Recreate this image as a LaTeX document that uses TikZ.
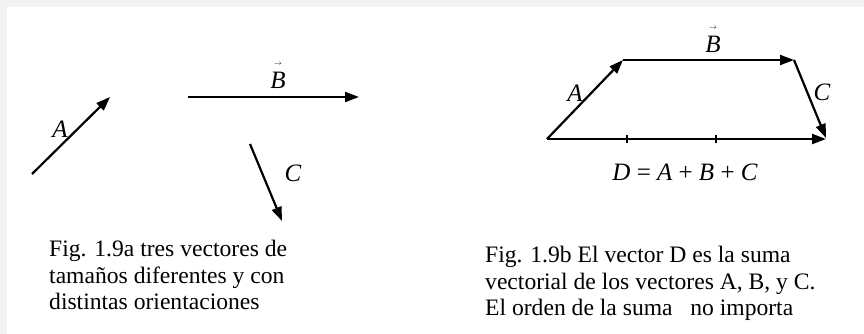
\documentclass[tikz,border=0pt]{standalone}
\usepackage{fontspec}
\setmainfont{Liberation Serif}
\usetikzlibrary{arrows.meta, positioning}

\newcommand{\flecha}[1]{\shortstack[c]{{\fontsize{7}{7}\selectfont$\rightarrow$}\\[4pt]\textit{#1}}}

\begin{document}
\begin{tikzpicture}[
    x=1pt, y=-1pt,
    vec/.style={-{Triangle[length=14pt, width=10pt]}, line width=2.2pt},
    lbl/.style={font=\fontsize{25}{25}\selectfont\itshape, inner sep=0pt},
    leyenda/.style={font=\fontsize{23.6}{26.5}\selectfont, align=left, anchor=north west, inner sep=0pt},
    marca/.style={line width=1.2pt}
]
\useasboundingbox (0,0) rectangle (864,334);
\fill[white] (0,0) rectangle (864,334);

% sombra del marco
\fill[black!5] (0,0) rectangle (864,7);
\fill[black!5] (0,0) rectangle (7,334);

% Fig. 1.9a: vectores sueltos
\coordinate (a0) at (32,174);
\coordinate (a1) at (110,97);
\coordinate (b0) at (188,97);
\coordinate (b1) at (359,97);
\coordinate (c0) at (250,144);
\coordinate (c1) at (282,221);

\draw[vec] (a0) -- (a1);
\draw[vec] (b0) -- (b1);
\draw[vec] (c0) -- (c1);

\node[lbl] (la) at (60,129) {A};
\node[lbl, anchor=south] (lb) at (278,89) {\flecha{B}};
\node[lbl] (lc) at (293,173) {C};

\node[leyenda] (capa) at (49,240) {Fig. 1.9a tres vectores de\\tamaños diferentes y con\\distintas orientaciones};

% Fig. 1.9b: suma de vectores
\coordinate (p0) at (547,139);
\coordinate (p1) at (623,60);
\coordinate (p2) at (794,60);
\coordinate (p3) at (826,138);

\draw[vec] (p0) -- (p1);
\draw[vec] (p1) -- (p2);
\draw[vec] (p2) -- (p3);
\draw[vec] (p0) -- (p3 |- p0);

% marcas sobre D
\draw[marca] (627,135) -- (627,143);
\draw[marca] (716,135) -- (716,143);

\node[lbl] (ra) at (575,93) {A};
\node[lbl, anchor=south] (rb) at (713,53) {\flecha{B}};
\node[lbl] (rc) at (822,92) {C};
\node[lbl] (rd) at (685,172) {D \upshape= \itshape A \upshape+ \itshape B \upshape+ \itshape C};

\node[leyenda] (capb) at (485,246) {Fig. 1.9b El vector D es la suma\\vectorial de los vectores A, B, y C.\\El orden de la suma \ \ no importa};
\end{tikzpicture}
\end{document}
